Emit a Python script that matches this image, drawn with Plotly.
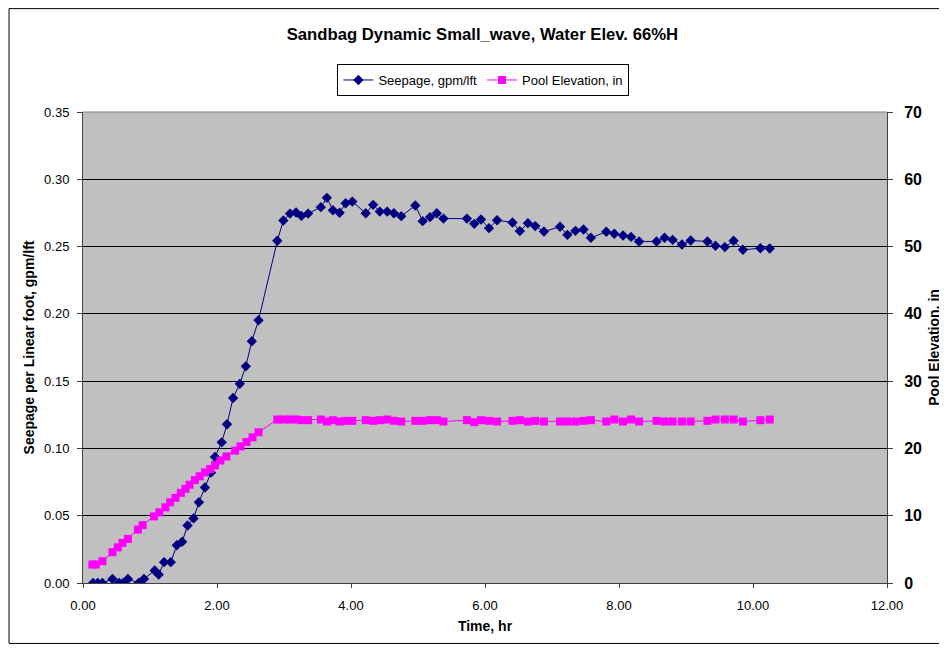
import plotly.graph_objects as go

# Seepage series (left axis)
seep_t = [0.15, 0.22, 0.29, 0.44, 0.54, 0.60, 0.67, 0.83, 0.91, 1.07, 1.13, 1.21, 1.31, 1.40, 1.48,
          1.56, 1.65, 1.73, 1.82, 1.91, 1.97, 2.07, 2.15, 2.24, 2.34, 2.43, 2.52, 2.62,
          2.90, 2.99, 3.09, 3.18, 3.26, 3.36, 3.55, 3.64, 3.73, 3.83, 3.92, 4.02, 4.22, 4.33,
          4.43, 4.54, 4.64, 4.75, 4.96, 5.07, 5.18, 5.28, 5.38, 5.73, 5.84, 5.94, 6.06, 6.18,
          6.41, 6.52, 6.64, 6.75, 6.88, 7.12, 7.23, 7.35, 7.47, 7.58, 7.81, 7.93, 8.06, 8.18,
          8.30, 8.56, 8.68, 8.80, 8.94, 9.07, 9.32, 9.44, 9.58, 9.71, 9.85, 10.11, 10.25]
seep_v = [0.000, 0.000, 0.000, 0.003, 0.000, 0.000, 0.003, 0.000, 0.003, 0.0093, 0.0063, 0.0155, 0.0155, 0.028, 0.0306,
          0.0427, 0.048, 0.060, 0.071, 0.082, 0.0937, 0.1045, 0.118, 0.1375, 0.148, 0.161, 0.1797, 0.1953,
          0.2543, 0.2694, 0.2745, 0.2753, 0.2728, 0.2745, 0.2793, 0.2862, 0.2770, 0.2751, 0.2822, 0.2834, 0.2748, 0.2810,
          0.2760, 0.2760, 0.2748, 0.2726, 0.2805, 0.2689, 0.2719, 0.2748, 0.2708, 0.2708, 0.2669, 0.2701, 0.2637, 0.2696,
          0.2679, 0.2615, 0.2674, 0.2652, 0.2612, 0.2647, 0.2587, 0.2617, 0.2627, 0.2565, 0.2610, 0.2595, 0.2582, 0.2572,
          0.2538, 0.2538, 0.2565, 0.2550, 0.2515, 0.2545, 0.2538, 0.2506, 0.2496, 0.2543, 0.2476, 0.2488, 0.2486]

# Pool elevation series (right axis)
pool_t = [0.14, 0.19, 0.29, 0.44, 0.52, 0.59, 0.67, 0.82, 0.89, 1.06, 1.14, 1.23, 1.30, 1.38, 1.46,
          1.53, 1.59, 1.67, 1.74, 1.82, 1.90, 1.97, 2.05, 2.14, 2.27, 2.35, 2.44, 2.53, 2.62,
          2.90, 2.99, 3.09, 3.18, 3.26, 3.36, 3.55, 3.64, 3.73, 3.83, 3.92, 4.02, 4.22, 4.33,
          4.43, 4.54, 4.64, 4.75, 4.96, 5.07, 5.18, 5.28, 5.38, 5.73, 5.84, 5.94, 6.06, 6.18,
          6.41, 6.52, 6.64, 6.75, 6.88, 7.12, 7.23, 7.35, 7.47, 7.58, 7.81, 7.93, 8.06, 8.18,
          8.30, 8.56, 8.68, 8.80, 8.94, 9.07, 9.32, 9.44, 9.58, 9.71, 9.85, 10.11, 10.25]
pool_v = [2.75, 2.75, 3.24, 4.58, 5.3, 5.96, 6.55, 7.94, 8.6, 9.9, 10.5, 11.25, 12.0, 12.65, 13.4,
          14.0, 14.6, 15.3, 15.85, 16.45, 16.95, 17.5, 18.2, 18.8, 19.67, 20.3, 20.96, 21.65, 22.4,
          24.3, 24.3, 24.3, 24.3, 24.2, 24.2, 24.3, 24.0, 24.2, 24.0, 24.1, 24.1, 24.2, 24.1,
          24.2, 24.3, 24.1, 24.0, 24.1, 24.1, 24.2, 24.2, 24.0, 24.2, 23.9, 24.2, 24.1, 24.0,
          24.1, 24.2, 24.0, 24.1, 24.0, 24.0, 24.0, 24.0, 24.1, 24.2, 24.0, 24.3, 24.0, 24.3,
          24.0, 24.1, 24.0, 24.0, 24.0, 24.0, 24.1, 24.3, 24.3, 24.3, 24.0, 24.2, 24.3]

x_ticks = [0, 2, 4, 6, 8, 10, 12]
left_ticks = [0.0, 0.05, 0.10, 0.15, 0.20, 0.25, 0.30, 0.35]
right_ticks = [0, 10, 20, 30, 40, 50, 60, 70]

OFF = 8  # page body margin
W, H = 947 - OFF, 649 - OFF
# target plot-area edges in screen pixels
SL, SR, ST, SB = 82.5, 886.7, 112.0, 583.5
L, R, T, B = SL - OFF, SR - OFF, ST - OFF, SB - OFF

FONT = "Liberation Sans, Arial, sans-serif"

fig = go.Figure()
fig.add_trace(go.Scatter(
    x=seep_t, y=seep_v, name="Seepage, gpm/lft", mode="lines+markers",
    line=dict(color="#000080", width=1),
    marker=dict(symbol="diamond", size=8, color="#000080"),
))
fig.add_trace(go.Scatter(
    x=pool_t, y=pool_v, name="Pool Elevation, in", mode="lines+markers", yaxis="y2",
    line=dict(color="#FF00FF", width=1),
    marker=dict(symbol="square", size=8, color="#FF00FF"),
))

def px(p):  # screen x -> paper
    return (p - SL) / (SR - SL)

def py(p):  # screen y -> paper
    return (SB - p) / (SB - ST)

fig.update_layout(
    width=W, height=H,
    margin=dict(l=L, r=W - R, t=T, b=H - B, pad=0, autoexpand=False),
    paper_bgcolor="white", plot_bgcolor="#C0C0C0",
    font=dict(family=FONT, size=13, color="black"),
    title=dict(text="<b>Sandbag Dynamic Small_wave, Water Elev. 66%H</b>",
               x=px(482), xref="paper", xanchor="center",
               y=1 - (34 - OFF) / H, yref="container", yanchor="middle",
               font=dict(size=16.7)),
    showlegend=True,
    legend=dict(orientation="h", x=px(483), xanchor="center", y=py(80), yanchor="middle",
                bgcolor="white", bordercolor="black", borderwidth=1,
                font=dict(size=13), tracegroupgap=0),
    xaxis=dict(range=[0, 12], tickvals=x_ticks, tickformat=".2f", automargin=False,
               showgrid=False, zeroline=False, showline=True, linecolor="#404040", linewidth=1,
               ticks="outside", ticklen=4, tickcolor="#404040", ticklabelstandoff=6,
               title=dict(text="<b>Time, hr</b>", font=dict(size=14), standoff=9),
               tickfont=dict(size=13)),
    yaxis=dict(range=[0, 0.35], tickvals=left_ticks, tickformat=".2f", automargin=False,
               showgrid=True, gridcolor="black", gridwidth=1, zeroline=False,
               showline=True, linecolor="#404040", linewidth=1,
               ticks="outside", ticklen=5, tickcolor="#404040", ticklabelstandoff=5,
               title=dict(text="<b>Seepage per Linear foot, gpm/lft</b>", font=dict(size=14), standoff=6),
               tickfont=dict(size=13)),
    yaxis2=dict(range=[0, 70], tickvals=right_ticks, overlaying="y", side="right", automargin=False,
                showgrid=False, zeroline=False, showline=True, linecolor="#404040", linewidth=1,
                ticks="outside", ticklen=5, tickcolor="#404040", ticklabelstandoff=8,
                title=dict(text="<b>Pool Elevation, in</b>", font=dict(size=14), standoff=8),
                tickfont=dict(size=16, family=FONT, weight="bold")),
    shapes=[
        dict(type="line", xref="paper", yref="paper", x0=0, x1=1, y0=1, y1=1,
             line=dict(color="#808080", width=1)),
        dict(type="rect", xref="paper", yref="paper",
             x0=px(8.5), x1=px(940), y0=py(644), y1=py(8.5),
             line=dict(color="black", width=1), fillcolor="rgba(0,0,0,0)", layer="above"),
    ],
)

fig.write_html("out.html")
